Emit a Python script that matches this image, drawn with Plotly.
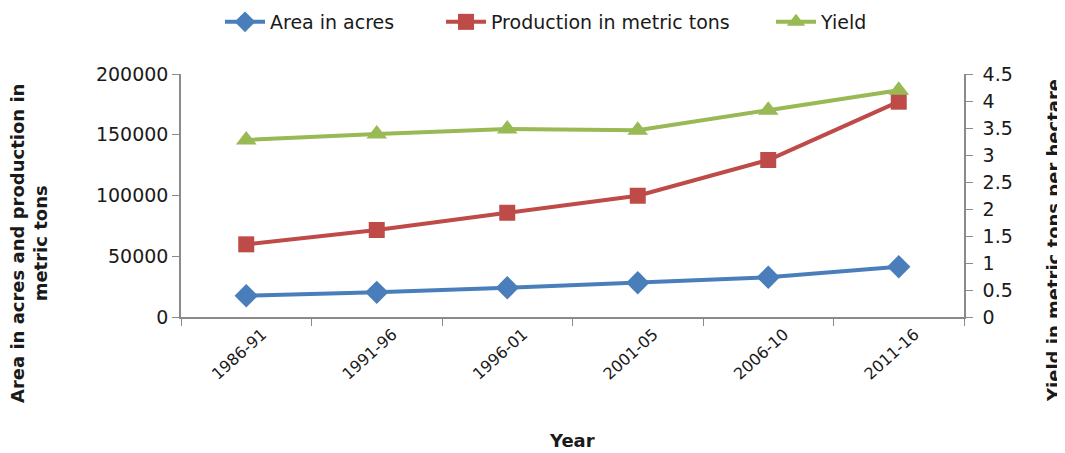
import plotly.graph_objects as go

years = ["1986-91", "1991-96", "1996-01", "2001-05", "2006-10", "2011-16"]
area_acres = [17500, 20300, 24100, 28200, 32700, 41400]
production_tons = [59800, 71600, 85800, 99800, 129200, 177200]
yield_t_per_ha = [3.28, 3.39, 3.48, 3.46, 3.83, 4.20]

left_ticks = [0, 50000, 100000, 150000, 200000]
right_ticks = [0, 0.5, 1, 1.5, 2, 2.5, 3, 3.5, 4, 4.5]

FONT = "DejaVu Sans"
AXIS_COL = "#8a8a8a"
TXT = "#1a1a1a"

# The page body has an 8px margin, so work in screen pixels and shift by 8.
OFF = 8
SW, SH = 1065, 453
W, H = SW - OFF, SH - OFF
# plot area in screen pixels
L, R, T, B = 181, 964, 74, 317
Lf, Rf, Tf, Bf = L - OFF, R - OFF, T - OFF, B - OFF


def px_x(p):
    return (p - L) / (R - L)


def px_y(p):
    return (B - p) / (B - T)


fig = go.Figure()
fig.add_trace(go.Scatter(
    x=years, y=area_acres, name="Area in acres", mode="lines+markers",
    line=dict(color="#4A7EBB", width=4),
    marker=dict(symbol="diamond", size=18, color="#4A7EBB"),
    legend="legend",
))
fig.add_trace(go.Scatter(
    x=years, y=production_tons, name="Production in metric tons", mode="lines+markers",
    line=dict(color="#BE4B48", width=4),
    marker=dict(symbol="square", size=16, color="#BE4B48"),
    legend="legend2",
))
fig.add_trace(go.Scatter(
    x=years, y=yield_t_per_ha, name="Yield", mode="lines+markers", yaxis="y2",
    line=dict(color="#98B954", width=4),
    marker=dict(symbol="triangle-up", size=18, color="#98B954"),
    legend="legend3",
))

leg_common = dict(orientation="h", yanchor="middle", xanchor="left",
                  font=dict(family=FONT, size=19, color=TXT),
                  bgcolor="rgba(0,0,0,0)", itemwidth=40)

fig.update_layout(
    width=W, height=H,
    margin=dict(l=Lf, r=W - Rf, t=Tf, b=H - Bf, autoexpand=False),
    paper_bgcolor="white", plot_bgcolor="white",
    font=dict(family=FONT, size=19, color=TXT),
    showlegend=True,
    legend=dict(x=px_x(220), y=px_y(22), **leg_common),
    legend2=dict(x=px_x(441), y=px_y(22), **leg_common),
    legend3=dict(x=px_x(771), y=px_y(22), **leg_common),
    xaxis=dict(
        type="category", range=[-0.5, 5.5], showgrid=False, zeroline=False,
        showline=True, linecolor=AXIS_COL, linewidth=1.5,
        ticks="outside", tickson="boundaries", ticklen=7, tickcolor=AXIS_COL,
        tickangle=-42, ticklabelshift=16, ticklabelstandoff=0,
        tickfont=dict(family=FONT, size=16, color=TXT),
    ),
    yaxis=dict(
        range=[0, 200000], tickvals=left_ticks, ticktext=[str(v) for v in left_ticks],
        showgrid=False, zeroline=False, showline=True, linecolor=AXIS_COL, linewidth=1.5,
        ticks="outside", ticklen=7, tickcolor=AXIS_COL,
        tickfont=dict(family=FONT, size=19, color=TXT),
    ),
    yaxis2=dict(
        range=[0, 4.5], tickvals=right_ticks, ticktext=[f"{v:g}" for v in right_ticks],
        overlaying="y", side="right", showgrid=False, zeroline=False,
        showline=True, linecolor=AXIS_COL, linewidth=1.5,
        ticks="outside", ticklen=7, tickcolor=AXIS_COL, ticklabelstandoff=6,
        tickfont=dict(family=FONT, size=19, color=TXT),
    ),
    annotations=[
        dict(text="<b>Area in acres and production in<br>metric tons</b>",
             xref="paper", yref="paper", x=px_x(29), y=px_y(244), textangle=-90,
             showarrow=False, xanchor="center", yanchor="middle",
             font=dict(family=FONT, size=18, color=TXT)),
        dict(text="<b>Yield in metric tons per hectare</b>",
             xref="paper", yref="paper", x=px_x(1053), y=px_y(241), textangle=-90,
             showarrow=False, xanchor="center", yanchor="middle",
             font=dict(family=FONT, size=18, color=TXT)),
        dict(text="<b>Year</b>",
             xref="paper", yref="paper", x=px_x(572), y=px_y(440),
             showarrow=False, xanchor="center", yanchor="middle",
             font=dict(family=FONT, size=18, color=TXT)),
    ],
)

fig.write_html("out.html")
